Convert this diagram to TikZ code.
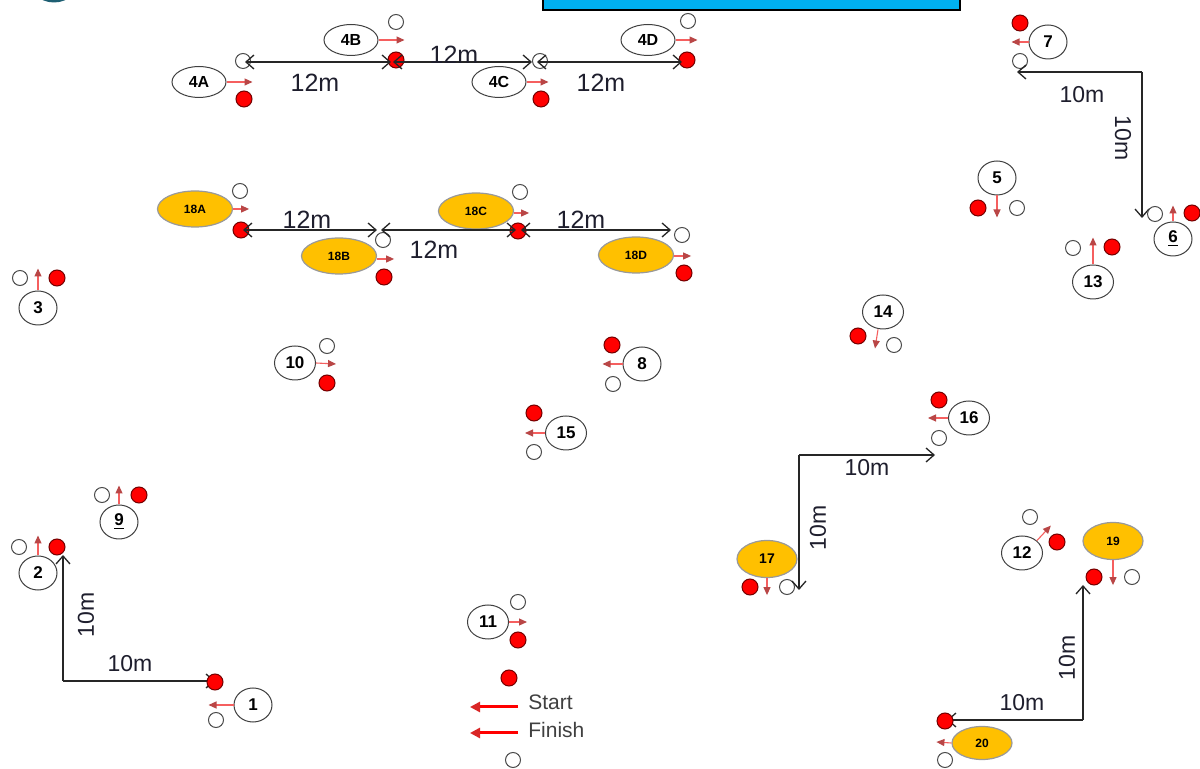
\documentclass[tikz,border=0pt]{standalone}
\usepackage{fontspec}
\setmainfont{Liberation Sans}
\usetikzlibrary{arrows.meta,shapes.geometric}
\definecolor{orng}{RGB}{255,192,0}
\definecolor{skyb}{RGB}{0,176,240}
\definecolor{tealx}{RGB}{30,95,115}
\definecolor{sred}{RGB}{245,95,95}
\definecolor{txtc}{RGB}{30,30,45}
\newcommand\fsz[1]{\fontsize{#1}{#1}\selectfont}
\tikzset{
 wc/.style={circle,draw=black!70,fill=white,line width=0.5pt,minimum size=7.5pt,inner sep=0pt},
 rc/.style={circle,draw=black!55!red,fill=red,line width=0.5pt,minimum size=8pt,inner sep=0pt},
 nl/.style={ellipse,draw=black!75,fill=white,line width=0.5pt,minimum width=19pt,minimum height=17pt,inner sep=0pt,font=\bfseries\fsz{8.5}},
 nlw/.style={nl,minimum width=20.5pt},
 fl/.style={ellipse,draw=black!75,fill=white,line width=0.5pt,minimum width=27pt,minimum height=15.5pt,inner sep=0pt,font=\bfseries\fsz{8}},
 ol/.style={ellipse,draw=gray!80,fill=orng,line width=0.6pt,minimum width=37.5pt,minimum height=18pt,inner sep=0pt,font=\bfseries\fsz{6}},
 os/.style={ol,minimum width=30pt,minimum height=18.5pt},
 sa/.style={draw=sred,line width=0.55pt,-{Triangle[length=4pt,width=3.5pt,color=red!45!gray]}},
 la/.style={draw=red,line width=1.5pt,-{Triangle[length=5pt,width=5pt,color=red!70!gray]}},
 dimar/.style={draw=black!85,line width=0.65pt,arrows={-Straight Barb[length=4pt,width=7pt]}},
 dd/.style={draw=black!85,line width=0.65pt,arrows={Straight Barb[length=4pt,width=7pt]-Straight Barb[length=4pt,width=7pt]}},
 tenm/.style={font=\fsz{11.5},text=txtc,inner sep=0pt},
 twelve/.style={font=\fsz{12.5},text=txtc,inner sep=0pt},
 legt/.style={font=\fsz{10.5},text=black!75,inner sep=0pt,anchor=west},
}
\begin{document}
\begin{tikzpicture}[x=0.5pt,y=-0.5pt]
\useasboundingbox (0,0) rectangle (1200,769);
\clip (0,0) rectangle (1200,769);
\fill[white] (0,0) rectangle (1200,769);
% header
\draw[fill=skyb,draw=black,line width=0.8pt] (543,-10) rectangle (960,10);
\node[circle,draw=tealx,line width=1.5pt,minimum size=26pt,inner sep=0pt] (logo) at (54,-25) {};

% ---- group 4
\node[fl] (l4A) at (199,82) {4A};
\node[wc] (w4A) at (243,61) {};
\node[rc] (r4A) at (244,99) {};
\draw[sa] (l4A.east) -- ++(26,0);
\node[fl] (l4B) at (351,40) {4B};
\node[wc] (w4B) at (396,22) {};
\node[rc] (r4B) at (396,60) {};
\draw[sa] (l4B.east) -- ++(26,0);
\node[fl] (l4C) at (499,82) {4C};
\node[wc] (w4C) at (540,61) {};
\node[rc] (r4C) at (541,99) {};
\draw[sa] (l4C.east) -- ++(22,0);
\node[fl] (l4D) at (648,40) {4D};
\node[wc] (w4D) at (688,21) {};
\node[rc] (r4D) at (687,60) {};
\draw[sa] (l4D.east) -- ++(22,0);
\coordinate (a1) at (245,62);
\coordinate (a2) at (391,62);
\coordinate (a3) at (393,62);
\coordinate (a4) at (532,62);
\coordinate (a5) at (537,62);
\coordinate (a6) at (682,62);
\draw[dd] (a1) -- (a2);
\draw[dd] (a3) -- (a4);
\draw[dd] (a5) -- (a6);
\node[twelve] (m1) at (315,83) {12m};
\node[twelve] (m2) at (454,55) {12m};
\node[twelve] (m3) at (601,83) {12m};

% ---- group 18
\node[ol] (l18A) at (195,209) {18A};
\node[wc] (w18A) at (240,191) {};
\node[rc] (r18A) at (241,230) {};
\draw[sa] (l18A.east) -- ++(16,0);
\node[ol] (l18B) at (339,256) {18B};
\node[wc] (w18B) at (383,240) {};
\node[rc] (r18B) at (384,277) {};
\draw[sa] ([yshift=-1.5pt]l18B.east) -- ++(17,0);
\node[ol] (l18C) at (476,211) {18C};
\node[wc] (w18C) at (520,192) {};
\node[rc] (r18C) at (518,231) {};
\draw[sa] ([yshift=-1pt]l18C.east) -- ++(15,0);
\node[ol] (l18D) at (636,255) {18D};
\node[wc] (w18D) at (682,235) {};
\node[rc] (r18D) at (684,273) {};
\draw[sa] ([yshift=-0.5pt]l18D.east) -- ++(17,0);
\coordinate (b1) at (243,230);
\coordinate (b2) at (377,230);
\coordinate (b3) at (381,230);
\coordinate (b4) at (516,230);
\coordinate (b5) at (521,230);
\coordinate (b6) at (671,230);
\draw[dd] (b1) -- (b2);
\draw[dd] (b3) -- (b4);
\draw[dd] (b5) -- (b6);
\node[twelve] (m4) at (307,220) {12m};
\node[twelve] (m5) at (434,250) {12m};
\node[twelve] (m6) at (581,220) {12m};

% ---- 7 and 6
\node[nl] (l7) at (1048,42) {7};
\node[rc] (r7) at (1020,23) {};
\node[wc] (w7) at (1020,61) {};
\draw[sa] (l7.west) -- ++(-17,0);
\coordinate (k7) at (1142,72);
\coordinate (e7) at (1017,72);
\coordinate (e6) at (1142,218);
\draw[dimar] (k7) -- (e7);
\draw[dimar] (k7) -- (e6);
\node[tenm] (t7a) at (1082,95) {10m};
\node[tenm,rotate=-90] (t7b) at (1123,138) {10m};
\node[nl] (l6) at (1173,239) {\underline{6}};
\node[wc] (w6) at (1155,214) {};
\node[rc] (r6) at (1192,213) {};
\draw[sa] (l6.north) -- ++(0,-16);

% ---- 5, 13, 14
\node[nl] (l5) at (997,178) {5};
\node[rc] (r5) at (978,208) {};
\node[wc] (w5) at (1017,208) {};
\draw[sa] (l5.south) -- ++(0,22);
\node[nlw] (l13) at (1093,282) {13};
\node[wc] (w13) at (1073,248) {};
\node[rc] (r13) at (1112,247) {};
\draw[sa] (l13.north) -- ++(0,-27);
\node[nlw] (l14) at (883,312) {14};
\node[rc] (r14) at (858,336) {};
\node[wc] (w14) at (894,345) {};
\draw[sa] ([xshift=-2.5pt]l14.south) -- ++(-3,19);

% ---- 3, 10, 8, 15, 16
\node[nl] (l3) at (38,308) {3};
\node[wc] (w3) at (20,278) {};
\node[rc] (r3) at (57,278) {};
\draw[sa] (l3.north) -- ++(0,-22);
\node[nlw] (l10) at (295,363) {10};
\node[wc] (w10) at (327,346) {};
\node[rc] (r10) at (327,383) {};
\draw[sa] (l10.east) -- ++(20,1);
\node[nl] (l8) at (642,364) {8};
\node[rc] (r8) at (612,345) {};
\node[wc] (w8) at (613,384) {};
\draw[sa] (l8.west) -- ++(-20,0);
\node[nlw] (l15) at (566,433) {15};
\node[rc] (r15) at (534,413) {};
\node[wc] (w15) at (534,452) {};
\draw[sa] (l15.west) -- ++(-20,0);
\node[nlw] (l16) at (969,418) {16};
\node[rc] (r16) at (939,400) {};
\node[wc] (w16) at (939,438) {};
\draw[sa] (l16.west) -- ++(-20,0);

% ---- 9, 2, 1
\node[nl] (l9) at (119,522) {\underline{9}};
\node[wc] (w9) at (102,495) {};
\node[rc] (r9) at (139,495) {};
\draw[sa] (l9.north) -- ++(0,-19);
\node[nl] (l2) at (38,573) {2};
\node[wc] (w2) at (19,547) {};
\node[rc] (r2) at (57,547) {};
\draw[sa] (l2.north) -- ++(0,-20);
\coordinate (k2) at (63,681);
\coordinate (e2a) at (63,555);
\coordinate (e2b) at (215,681);
\draw[dimar] (k2) -- (e2a);
\draw[dimar] (k2) -- (e2b);
\node[tenm] (t2a) at (130,664) {10m};
\node[tenm,rotate=90] (t2b) at (86,615) {10m};
\node[nl] (l1) at (253,705) {1};
\node[rc] (r1) at (215,682) {};
\node[wc] (w1) at (216,720) {};
\draw[sa] (l1.west) -- ++(-25,0);

% ---- 11 and legend
\node[nlw] (l11) at (488,622) {11};
\node[wc] (w11) at (518,602) {};
\node[rc] (r11) at (518,640) {};
\draw[sa] (l11.east) -- ++(18,0);
\node[rc] (rleg) at (509,678) {};
\coordinate (s1) at (518,707);
\coordinate (s2) at (470,707);
\coordinate (f1) at (518,733);
\coordinate (f2) at (470,733);
\draw[la] (s1) -- (s2);
\draw[la] (f1) -- (f2);
\node[legt] (st) at (528,702) {Start};
\node[legt] (fi) at (528,730) {Finish};
\node[wc] (wleg) at (513,760) {};

% ---- 17
\node[os,font=\bfseries\fsz{7}] (l17) at (767,559) {17};
\node[rc] (r17) at (750,587) {};
\node[wc] (w17) at (787,587) {};
\draw[sa] (l17.south) -- ++(0,17);
\coordinate (k17) at (799,455);
\coordinate (e17a) at (935,455);
\coordinate (e17b) at (799,590);
\draw[dimar] (k17) -- (e17a);
\draw[dimar] (k17) -- (e17b);
\node[tenm] (t17a) at (867,468) {10m};
\node[tenm,rotate=90] (t17b) at (818,528) {10m};

% ---- 12, 19, 20
\node[nlw] (l12) at (1022,553) {12};
\node[wc] (w12) at (1030,517) {};
\node[rc] (r12) at (1057,542) {};
\draw[sa] (l12.north east) -- ++(14,-15);
\node[os] (l19) at (1113,541) {19};
\node[rc] (r19) at (1094,577) {};
\node[wc] (w19) at (1132,577) {};
\draw[sa] (l19.south) -- ++(0,25);
\coordinate (k19) at (1083,720);
\coordinate (e19a) at (1083,585);
\coordinate (e19b) at (947,720);
\draw[dimar] (k19) -- (e19a);
\draw[dimar] (k19) -- (e19b);
\node[tenm] (t19a) at (1022,703) {10m};
\node[tenm,rotate=90] (t19b) at (1067,658) {10m};
\node[os,minimum height=16.5pt] (l20) at (982,743) {20};
\node[rc] (r20) at (945,721) {};
\node[wc] (w20) at (945,760) {};
\draw[sa] (l20.west) -- ++(-15,-1);
\end{tikzpicture}
\end{document}
